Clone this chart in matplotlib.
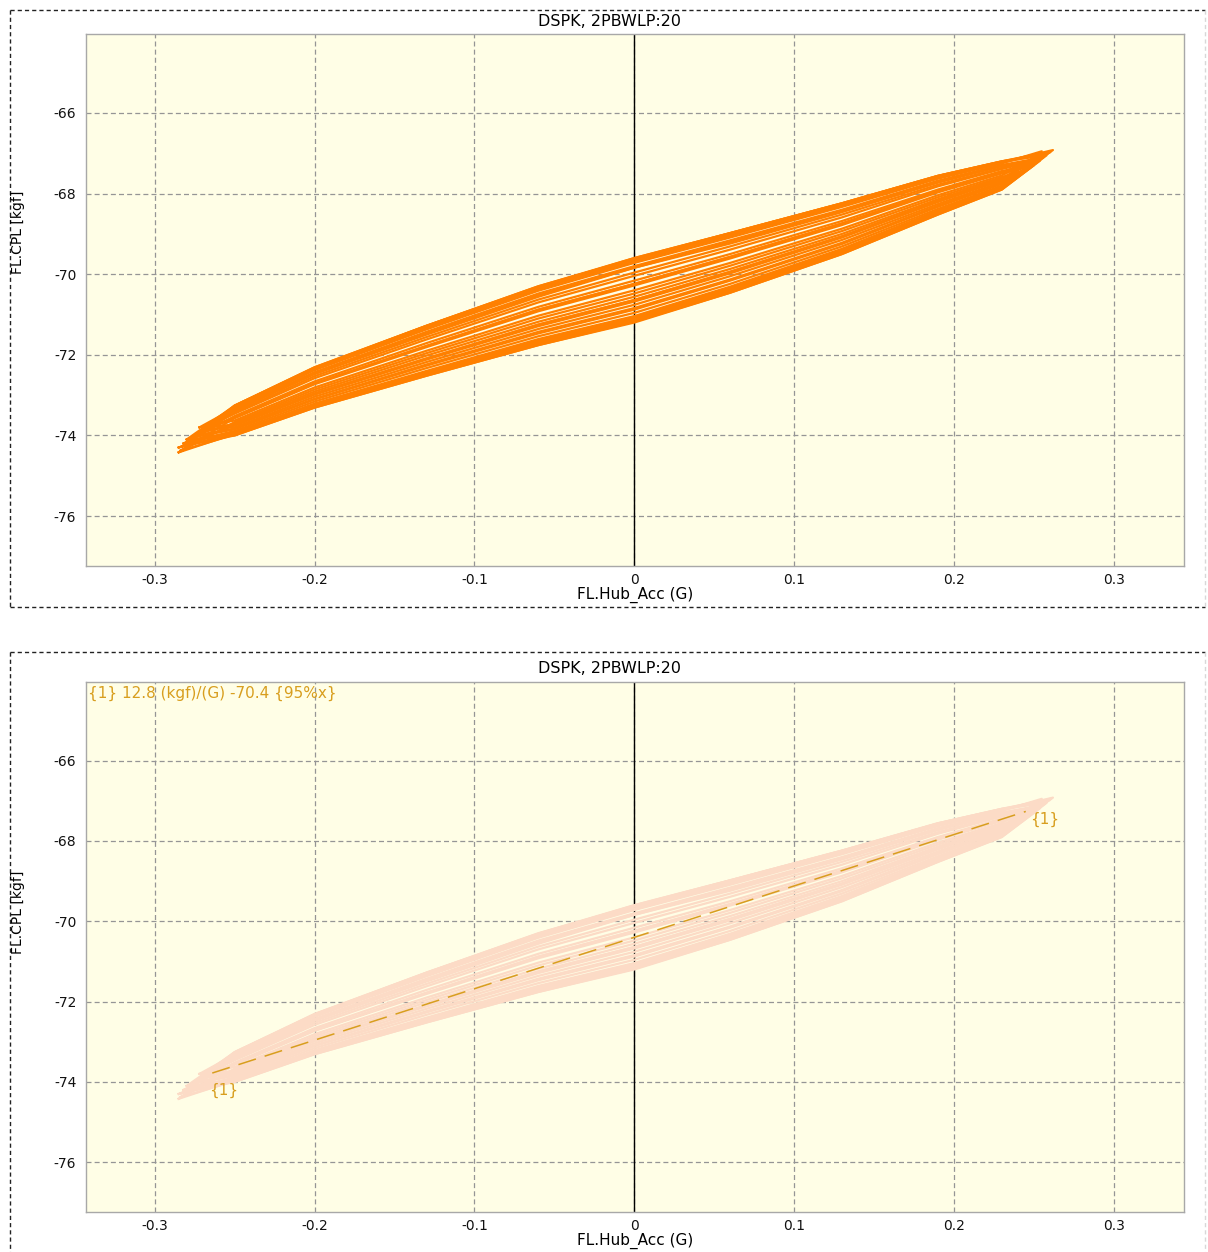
import matplotlib
matplotlib.use("Agg")
import matplotlib.pyplot as plt
from matplotlib.lines import Line2D

TITLE = "DSPK, 2PBWLP:20"
X_LABEL = "FL.Hub_Acc (G)"
Y_LABEL = "FL.CPL [kgf]"
X_TICKS = [-0.3, -0.2, -0.1, 0.0, 0.1, 0.2, 0.3]
X_TICK_LABELS = ["-0.3", "-0.2", "-0.1", "0", "0.1", "0.2", "0.3"]
Y_TICKS = [-76, -74, -72, -70, -68, -66]

# shared interior x positions of every hysteresis loop
LOOP_GRID_X = [-0.25, -0.20, -0.13, -0.06, 0.00, 0.06, 0.13, 0.19, 0.23]
# (left tip x, left tip y, right tip x, right tip y)
LOOP_TIPS = [
    (-0.280, -74.10, 0.258, -67.05),
    (-0.272, -73.80, 0.255, -66.95),
    (-0.284, -74.38, 0.250, -67.30),
    (-0.270, -73.85, 0.245, -67.25),
    (-0.278, -74.15, 0.252, -67.15),
    (-0.268, -73.76, 0.262, -66.92),
    (-0.285, -74.42, 0.242, -67.45),
    (-0.275, -74.00, 0.256, -67.10),
    (-0.282, -74.20, 0.248, -67.30),
    (-0.266, -73.78, 0.260, -66.98),
    (-0.285, -74.30, 0.240, -67.50),
    (-0.272, -73.95, 0.253, -67.12),
    (-0.279, -74.12, 0.259, -67.00),
    (-0.270, -73.90, 0.246, -67.28),
    (-0.283, -74.28, 0.254, -67.18),
    (-0.276, -74.05, 0.261, -66.95),
]
# upper branch (load rising) at LOOP_GRID_X
LOOP_UPPER = [
    [-73.26, -72.31, -71.28, -70.30, -69.60, -68.98, -68.24, -67.56, -67.20],
    [-73.32, -72.38, -71.37, -70.41, -69.72, -69.09, -68.33, -67.63, -67.25],
    [-73.57, -72.73, -71.81, -70.92, -70.28, -69.61, -68.78, -67.97, -67.50],
    [-73.46, -72.58, -71.62, -70.70, -70.04, -69.39, -68.59, -67.82, -67.39],
    [-73.39, -72.48, -71.50, -70.56, -69.84, -69.24, -68.46, -67.73, -67.32],
    [-73.28, -72.33, -71.31, -70.34, -69.64, -69.02, -68.27, -67.58, -67.22],
    [-73.67, -72.86, -71.96, -71.10, -70.48, -69.79, -68.93, -68.09, -67.59],
    [-73.35, -72.43, -71.43, -70.48, -69.80, -69.16, -68.40, -67.68, -67.29],
    [-73.52, -72.66, -71.71, -70.81, -70.16, -69.50, -68.68, -67.90, -67.44],
    [-73.26, -72.31, -71.28, -70.30, -69.62, -68.98, -68.24, -67.56, -67.20],
    [-73.74, -72.96, -72.09, -71.25, -70.64, -69.94, -69.06, -68.18, -67.66],
    [-73.43, -72.53, -71.56, -70.63, -69.96, -69.31, -68.52, -67.78, -67.36],
    [-73.30, -72.36, -71.34, -70.37, -69.68, -69.05, -68.30, -67.61, -67.23],
    [-73.56, -72.71, -71.78, -70.88, -70.24, -69.57, -68.74, -67.94, -67.48],
    [-73.37, -72.46, -71.47, -70.52, -69.84, -69.20, -68.43, -67.70, -67.30],
    [-73.26, -72.33, -71.28, -70.32, -69.60, -68.98, -68.24, -67.56, -67.20],
]
# lower branch (load falling) at LOOP_GRID_X
LOOP_LOWER = [
    [-74.00, -73.31, -72.52, -71.76, -71.20, -70.46, -69.50, -68.52, -67.90],
    [-73.74, -72.96, -72.09, -71.25, -70.64, -69.94, -69.06, -68.18, -67.66],
    [-73.98, -73.29, -72.49, -71.72, -71.16, -70.42, -69.47, -68.50, -67.88],
    [-73.80, -73.04, -72.18, -71.36, -70.76, -70.05, -69.15, -68.26, -67.71],
    [-73.89, -73.16, -72.33, -71.54, -70.96, -70.24, -69.31, -68.38, -67.80],
    [-73.63, -72.81, -71.90, -71.03, -70.40, -69.72, -68.87, -68.04, -67.55],
    [-73.96, -73.26, -72.46, -71.69, -71.12, -70.39, -69.44, -68.47, -67.87],
    [-73.83, -73.09, -72.24, -71.43, -70.84, -70.13, -69.22, -68.30, -67.74],
    [-73.93, -73.21, -72.40, -71.61, -71.04, -70.31, -69.37, -68.42, -67.83],
    [-73.56, -72.71, -71.78, -70.88, -70.24, -69.57, -68.74, -67.94, -67.48],
    [-73.94, -73.24, -72.43, -71.65, -71.08, -70.35, -69.41, -68.45, -67.85],
    [-73.70, -72.91, -72.02, -71.18, -70.56, -69.87, -69.00, -68.14, -67.62],
    [-73.94, -73.24, -72.43, -71.65, -71.10, -70.35, -69.41, -68.45, -67.85],
    [-73.76, -72.99, -72.12, -71.29, -70.68, -69.98, -69.09, -68.21, -67.67],
    [-74.00, -73.31, -72.52, -71.76, -71.18, -70.46, -69.50, -68.52, -67.90],
    [-73.85, -73.11, -72.27, -71.47, -70.88, -70.16, -69.25, -68.33, -67.76],
]

FIT_SLOPE = 12.8
FIT_INTERCEPT = -70.4
FIT_X = [-0.264, 0.245]
FIT_TEXT = "{1} 12.8 (kgf)/(G) -70.4 {95%x}"
FIT_TAG = "{1}"

COLOR_BG = "#fffee6"
COLOR_GRID = "#959595"
COLOR_SPINE = "#a8a8a8"
COLOR_LOOP = "#ff8000"
COLOR_LOOP_FADED = "#fcdbc6"
COLOR_FIT = "#d89e1e"
COLOR_FRAME = "#222222"

W, H = 1208, 1252
XLIM = (-0.343, 0.344)
YLIM = (-77.24, -64.04)

FS_TICK = 10
FS_LABEL = 11
FS_YLABEL = 10
FS_TITLE = 11.5


def px(x, y):
    """pixel position (top-left origin) to figure fraction"""
    return x / W, 1 - y / H


def loop_path(i):
    xl, yl, xr, yr = LOOP_TIPS[i]
    xs = [xl] + LOOP_GRID_X + [xr] + LOOP_GRID_X[::-1] + [xl]
    ys = [yl] + LOOP_UPPER[i] + [yr] + LOOP_LOWER[i][::-1] + [yl]
    return xs, ys


def setup_axes(ax):
    ax.set_facecolor(COLOR_BG)
    ax.set_xlim(*XLIM)
    ax.set_ylim(*YLIM)
    ax.set_xticks(X_TICKS)
    ax.set_xticklabels(X_TICK_LABELS)
    ax.set_yticks(Y_TICKS)
    ax.tick_params(length=0, labelsize=FS_TICK, labelcolor="#111111")
    ax.tick_params(axis="y", pad=7)
    ax.tick_params(axis="x", pad=5)
    ax.grid(True, color=COLOR_GRID, linestyle=(0, (4, 2.5)), linewidth=0.9)
    ax.set_axisbelow(True)
    for s in ax.spines.values():
        s.set_color(COLOR_SPINE)
        s.set_linewidth(1.0)
    ax.axvline(0, color="black", linewidth=1.0, zorder=1.5)
    ax.set_xlabel(X_LABEL, fontsize=FS_LABEL, labelpad=0)


def draw_frame(fig, x0, y0, x1, y1, bottom=True):
    dash = (0, (3, 2.2))
    kw = dict(transform=fig.transFigure, color=COLOR_FRAME, linewidth=1.0,
              linestyle=dash)
    (a, b), (c, d) = px(x0, y0), px(x1, y1)
    fig.add_artist(Line2D([a, c], [b, b], **kw))
    fig.add_artist(Line2D([a, a], [b, d], **kw))
    if bottom:
        fig.add_artist(Line2D([a, c], [d, d], **kw))
    kw["color"] = "#d8d8d8"
    fig.add_artist(Line2D([c, c], [b, d], **kw))


def main():
    plt.rcParams["font.family"] = ["DejaVu Sans"]
    plt.rcParams["axes.unicode_minus"] = False
    fig = plt.figure(figsize=(W / 100, H / 100), dpi=100)

    ax1 = fig.add_axes([86 / W, 1 - 566 / H, 1098 / W, 532 / H])
    ax2 = fig.add_axes([86 / W, 1 - 1212 / H, 1098 / W, 530 / H])

    for ax in (ax1, ax2):
        setup_axes(ax)

    for i in range(len(LOOP_TIPS)):
        xs, ys = loop_path(i)
        ax1.plot(xs, ys, color=COLOR_LOOP, linewidth=1.6, zorder=2)
        ax2.plot(xs, ys, color=COLOR_LOOP_FADED, linewidth=1.6, zorder=2)

    fit_y = [FIT_SLOPE * x + FIT_INTERCEPT for x in FIT_X]
    ax2.plot(FIT_X, fit_y, color=COLOR_FIT, linewidth=1.1,
             linestyle=(0, (12, 6)), zorder=3)
    ax2.annotate(FIT_TAG, (FIT_X[0], fit_y[0]), xytext=(-2, -16),
                 textcoords="offset points", fontsize=FS_LABEL,
                 color=COLOR_FIT)
    ax2.annotate(FIT_TAG, (FIT_X[1], fit_y[1]), xytext=(3, -9),
                 textcoords="offset points", fontsize=FS_LABEL,
                 color=COLOR_FIT)
    ax2.text(0.002, 0.993, FIT_TEXT, transform=ax2.transAxes,
             fontsize=FS_LABEL, color=COLOR_FIT, ha="left", va="top")

    draw_frame(fig, 10, 10, 1205, 607)
    draw_frame(fig, 10, 652, 1205, 1252, bottom=False)

    for ytitle in (21, 668):
        fx, fy = px(610, ytitle)
        fig.text(fx, fy, TITLE, ha="center", va="center", fontsize=FS_TITLE)
    for yl in (232, 912):
        fx, fy = px(18, yl)
        fig.text(fx, fy, Y_LABEL, ha="center", va="center", rotation=90,
                 fontsize=FS_YLABEL)

    fig.savefig("out.png", dpi=100)


if __name__ == "__main__":
    main()
